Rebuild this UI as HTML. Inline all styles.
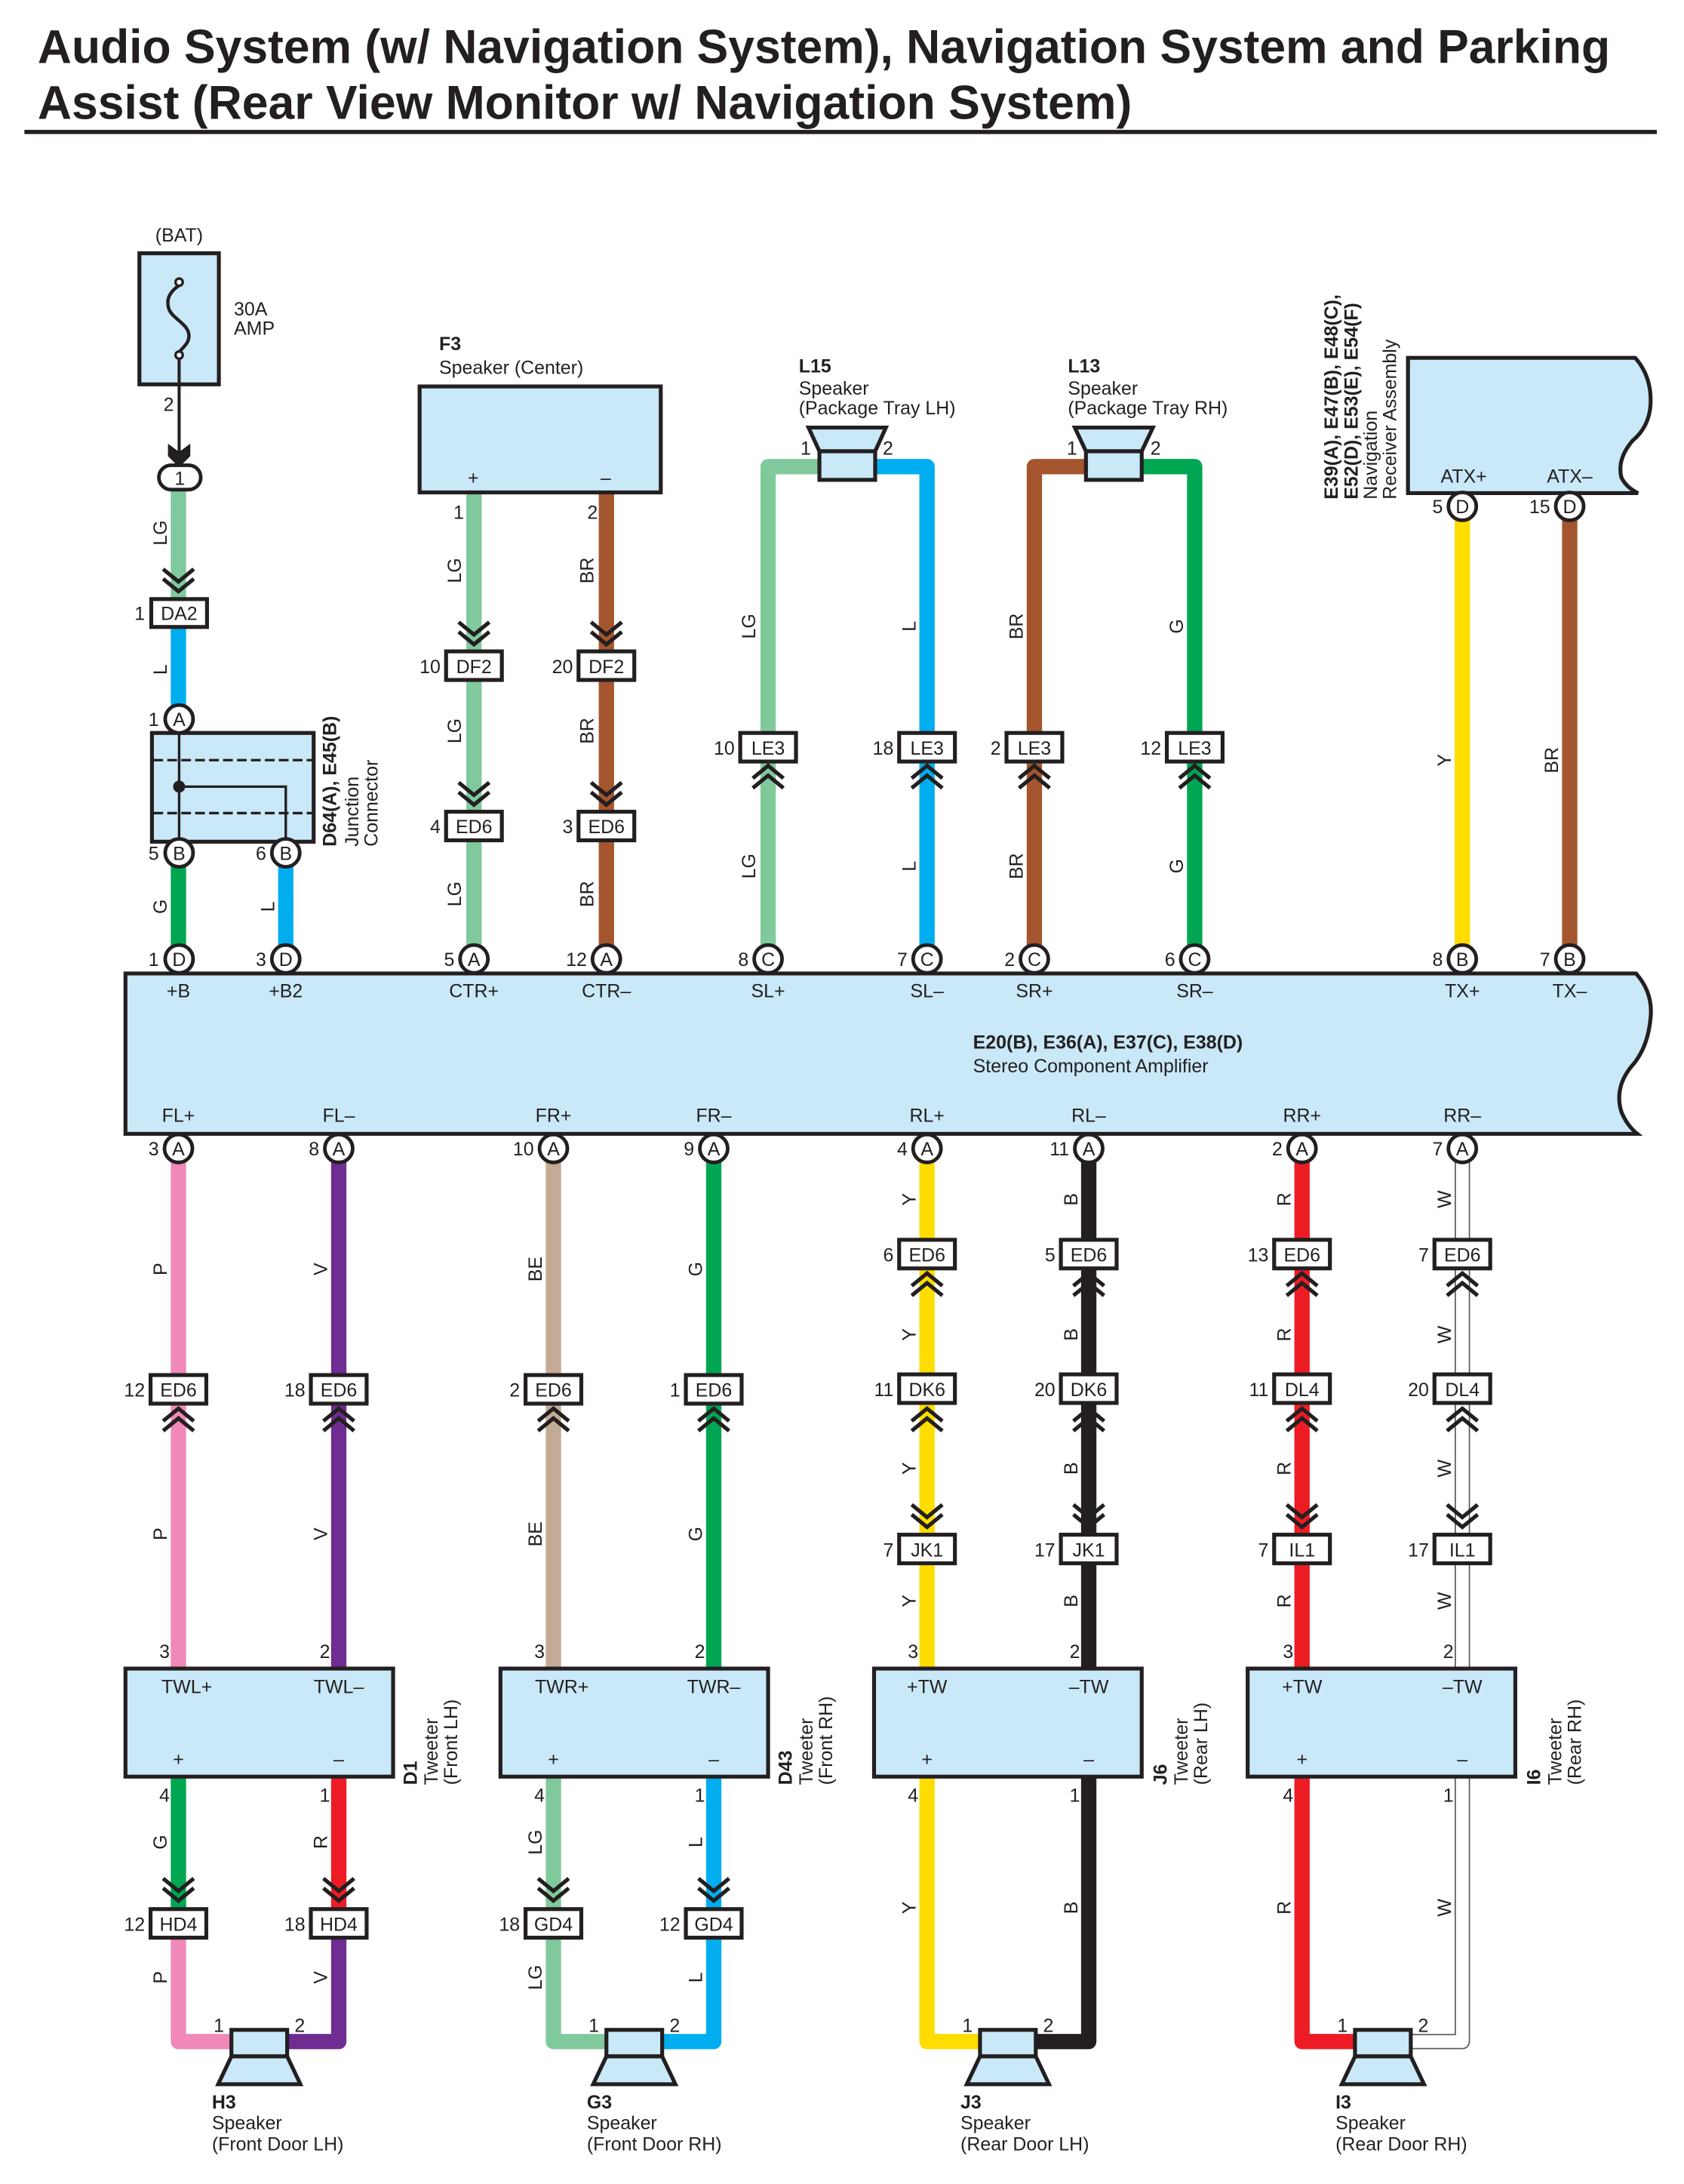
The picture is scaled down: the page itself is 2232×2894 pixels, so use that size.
<!DOCTYPE html>
<html><head><meta charset="utf-8"><style>
html,body{margin:0;padding:0;background:#fff;}
svg{display:block;}
text{font-family:"Liberation Sans",Arial,sans-serif;font-size:13.5px;fill:#231f20;}
.b{font-weight:bold;}
.c{text-anchor:middle;}
.e{text-anchor:end;}
.w{fill:none;stroke-width:11;stroke-linejoin:round;}
.box{fill:#c9e8f8;stroke:#231f20;stroke-width:2.8;}
.cn{fill:#fff;stroke:#231f20;stroke-width:2.8;}
.ch{fill:none;stroke:#231f20;stroke-width:2.8;}
.pin{fill:#fff;stroke:#231f20;stroke-width:2.6;}
</style></head><body>
<svg width="2232" height="2894" viewBox="0 0 1208 1566" xmlns="http://www.w3.org/2000/svg">
<rect width="1208" height="1566" fill="#fff"/>
<!-- Title -->
<text x="27" y="45" class="b" style="font-size:34px" textLength="1128" lengthAdjust="spacingAndGlyphs">Audio System (w/ Navigation System), Navigation System and Parking</text>
<text x="27" y="85" class="b" style="font-size:34px" textLength="785" lengthAdjust="spacingAndGlyphs">Assist (Rear View Monitor w/ Navigation System)</text>
<rect x="17.5" y="93" width="1171" height="3" fill="#231f20"/>

<!-- ================= WIRES ================= -->
<g class="w">
<path d="M128,352V430" stroke="#80c99c"/>
<path d="M128,449V506" stroke="#00aeef"/>
<path d="M128,612V688" stroke="#00a651"/>
<path d="M205,612V688" stroke="#00aeef"/>
<path d="M340,353V688" stroke="#80c99c"/>
<path d="M435,353V688" stroke="#a5562f"/>
<path d="M551,688V334.5H590" stroke="#80c99c"/>
<path d="M665,688V334.5H626" stroke="#00aeef"/>
<path d="M742,688V334.5H781" stroke="#a5562f"/>
<path d="M857,688V334.5H817" stroke="#00a651"/>
<path d="M1049,353V688" stroke="#ffdd00"/>
<path d="M1126,353V688" stroke="#a5562f"/>
<!-- front -->
<path d="M128,824V1197" stroke="#f088b8"/>
<path d="M128,1274V1379" stroke="#00a651"/>
<path d="M128,1379V1464H168" stroke="#f088b8"/>
<path d="M243,824V1197" stroke="#6f2c91"/>
<path d="M243,1274V1379" stroke="#ed1c24"/>
<path d="M243,1379V1464H204" stroke="#6f2c91"/>
<path d="M397,824V1197" stroke="#c4ab95"/>
<path d="M397,1274V1379" stroke="#80c99c"/>
<path d="M397,1379V1464H437" stroke="#80c99c"/>
<path d="M512,824V1197" stroke="#00a651"/>
<path d="M512,1274V1379" stroke="#00aeef"/>
<path d="M512,1379V1464H473" stroke="#00aeef"/>
<!-- rear -->
<path d="M665,824V1197" stroke="#ffdd00"/>
<path d="M665,1274V1464H705" stroke="#ffdd00"/>
<path d="M781,824V1197" stroke="#231f20"/>
<path d="M781,1274V1464H741" stroke="#231f20"/>
<path d="M934,824V1197" stroke="#ed1c24"/>
<path d="M934,1274V1464H974" stroke="#ed1c24"/>
<path d="M1049,824V1197" stroke="#555"/>
<path d="M1049,1274V1464H1010" stroke="#555"/>
</g>
<g class="w" style="stroke-width:9.2">
<path d="M1049,824V1197" stroke="#fff"/>
<path d="M1049,1274V1464H1010" stroke="#fff"/>
</g>

<!-- ================= FUSE ================= -->
<text x="128.5" y="173" class="c">(BAT)</text>
<rect x="100" y="181.5" width="57" height="94" class="box"/>
<path d="M128.5,204.5 C122,209 119,214 121,221 C123,228 135,232 135.5,240 C136,246 131,249 128.5,252.5" fill="none" stroke="#231f20" stroke-width="2.4"/>
<circle cx="128.5" cy="202.2" r="2.6" fill="#fff" stroke="#231f20" stroke-width="1.8"/>
<circle cx="128.5" cy="254.5" r="2.6" fill="#fff" stroke="#231f20" stroke-width="1.8"/>
<line x1="128.5" y1="257" x2="128.5" y2="330" stroke="#231f20" stroke-width="2.2"/>
<path d="M120.5,318 L128.5,324 L136.5,318 L136.5,327 L128.5,335 L120.5,327 Z" fill="#231f20"/>
<text x="167.8" y="226">30A</text>
<text x="167.8" y="240">AMP</text>
<text x="121" y="294.5" class="c">2</text>
<rect x="114" y="333.5" width="30" height="17.5" rx="8.7" class="pin"/>
<text x="129" y="347.5" class="c">1</text>

<!-- Junction connector -->
<rect x="109" y="525.5" width="116" height="78" class="box"/>
<line x1="110" y1="545" x2="224" y2="545" stroke="#231f20" stroke-width="1.8" stroke-dasharray="7,3"/>
<line x1="110" y1="583" x2="224" y2="583" stroke="#231f20" stroke-width="1.8" stroke-dasharray="7,3"/>
<path d="M128.5,526V604 M128.5,564H205V604" fill="none" stroke="#231f20" stroke-width="1.8"/>
<circle cx="128.5" cy="564" r="4.3" fill="#231f20"/>
<text transform="translate(241,607) rotate(-90)" class="b">D64(A), E45(B)</text>
<text transform="translate(257,607) rotate(-90)">Junction</text>
<text transform="translate(271,607) rotate(-90)">Connector</text>

<!-- F3 -->
<text x="315" y="251" class="b">F3</text>
<text x="315" y="268">Speaker (Center)</text>
<rect x="301" y="277" width="173" height="76" class="box"/>
<text x="339.5" y="347" class="c">+</text>
<text x="434.5" y="347" class="c">–</text>
<text x="329" y="372" class="c">1</text>
<text x="425" y="372" class="c">2</text>

<!-- L15 / L13 -->
<text x="573" y="267" class="b">L15</text>
<text x="573" y="283">Speaker</text>
<text x="573" y="297">(Package Tray LH)</text>
<polygon points="580,306.5 635.5,306.5 627.8,323.5 587.8,323.5" class="box"/>
<rect x="587.8" y="323.5" width="40" height="20.5" class="box"/>
<text x="578" y="326" class="c">1</text>
<text x="637" y="326" class="c">2</text>
<text x="766" y="267" class="b">L13</text>
<text x="766" y="283">Speaker</text>
<text x="766" y="297">(Package Tray RH)</text>
<polygon points="771,306.5 827,306.5 819,323.5 779,323.5" class="box"/>
<rect x="779" y="323.5" width="40" height="20.5" class="box"/>
<text x="769" y="326" class="c">1</text>
<text x="829" y="326" class="c">2</text>

<!-- Nav receiver -->
<path d="M1010,256.5H1173Q1185,270 1184,290Q1183,306 1171,316Q1160,329 1163,342Q1166,349 1175,353.5H1010Z" class="box"/>
<text x="1050" y="346" class="c">ATX+</text>
<text x="1126" y="346" class="c">ATX–</text>
<text transform="translate(959.5,358) rotate(-90)" class="b">E39(A), E47(B), E48(C),</text>
<text transform="translate(973.8,358) rotate(-90)" class="b">E52(D), E53(E), E54(F)</text>
<text transform="translate(987.8,358) rotate(-90)">Navigation</text>
<text transform="translate(1001.5,358) rotate(-90)">Receiver Assembly</text>

<!-- AMP -->
<path d="M90,698H1173.6Q1186,712 1184,730Q1182,752 1170,765Q1158,780 1163,797Q1167,807 1174.5,813H90Z" class="box"/>
<g class="c">
<text x="128" y="715">+B</text><text x="205" y="715">+B2</text>
<text x="340" y="715">CTR+</text><text x="435" y="715">CTR–</text>
<text x="551" y="715">SL+</text><text x="665" y="715">SL–</text>
<text x="742" y="715">SR+</text><text x="857" y="715">SR–</text>
<text x="1049" y="715">TX+</text><text x="1126" y="715">TX–</text>
<text x="128" y="804.5">FL+</text><text x="243" y="804.5">FL–</text>
<text x="397" y="804.5">FR+</text><text x="512" y="804.5">FR–</text>
<text x="665" y="804.5">RL+</text><text x="781" y="804.5">RL–</text>
<text x="934" y="804.5">RR+</text><text x="1049" y="804.5">RR–</text>
</g>
<text x="698" y="752" class="b">E20(B), E36(A), E37(C), E38(D)</text>
<text x="698" y="769">Stereo Component Amplifier</text>

<!-- Tweeters -->
<rect x="90" y="1196.5" width="192" height="77.5" class="box"/>
<rect x="359" y="1196.5" width="192" height="77.5" class="box"/>
<rect x="627" y="1196.5" width="192" height="77.5" class="box"/>
<rect x="895" y="1196.5" width="192" height="77.5" class="box"/>
<g class="c">
<text x="134" y="1214">TWL+</text><text x="243" y="1214">TWL–</text>
<text x="403" y="1214">TWR+</text><text x="512" y="1214">TWR–</text>
<text x="665" y="1214">+TW</text><text x="781" y="1214">–TW</text>
<text x="934" y="1214">+TW</text><text x="1049" y="1214">–TW</text>
<text x="128" y="1266">+</text><text x="243" y="1266">–</text>
<text x="397" y="1266">+</text><text x="512" y="1266">–</text>
<text x="665" y="1266">+</text><text x="781" y="1266">–</text>
<text x="934" y="1266">+</text><text x="1049" y="1266">–</text>
<text x="118" y="1189">3</text><text x="233" y="1189">2</text>
<text x="387" y="1189">3</text><text x="502" y="1189">2</text>
<text x="655" y="1189">3</text><text x="771" y="1189">2</text>
<text x="924" y="1189">3</text><text x="1039" y="1189">2</text>
<text x="118" y="1292">4</text><text x="233" y="1292">1</text>
<text x="387" y="1292">4</text><text x="502" y="1292">1</text>
<text x="655" y="1292">4</text><text x="771" y="1292">1</text>
<text x="924" y="1292">4</text><text x="1039" y="1292">1</text>
</g>
<text transform="translate(299,1280) rotate(-90)" class="b">D1</text>
<text transform="translate(314,1280) rotate(-90)">Tweeter</text>
<text transform="translate(328,1280) rotate(-90)">(Front LH)</text>
<text transform="translate(568,1280) rotate(-90)" class="b">D43</text>
<text transform="translate(583,1280) rotate(-90)">Tweeter</text>
<text transform="translate(597,1280) rotate(-90)">(Front RH)</text>
<text transform="translate(837,1280) rotate(-90)" class="b">J6</text>
<text transform="translate(852,1280) rotate(-90)">Tweeter</text>
<text transform="translate(866,1280) rotate(-90)">(Rear LH)</text>
<text transform="translate(1105,1280) rotate(-90)" class="b">I6</text>
<text transform="translate(1120,1280) rotate(-90)">Tweeter</text>
<text transform="translate(1134,1280) rotate(-90)">(Rear RH)</text>

<!-- Bottom speakers -->
<g>
<rect x="166" y="1455.6" width="40" height="19" class="box"/><polygon points="166,1474.6 206,1474.6 215.5,1494.6 156.5,1494.6" class="box"/>
<rect x="435" y="1455.6" width="40" height="19" class="box"/><polygon points="435,1474.6 475,1474.6 484.5,1494.6 425.5,1494.6" class="box"/>
<rect x="703" y="1455.6" width="40" height="19" class="box"/><polygon points="703,1474.6 743,1474.6 752.5,1494.6 693.5,1494.6" class="box"/>
<rect x="972" y="1455.6" width="40" height="19" class="box"/><polygon points="972,1474.6 1012,1474.6 1021.5,1494.6 962.5,1494.6" class="box"/>
</g>
<g class="c">
<text x="157" y="1457">1</text><text x="215" y="1457">2</text>
<text x="426" y="1457">1</text><text x="484" y="1457">2</text>
<text x="694" y="1457">1</text><text x="752" y="1457">2</text>
<text x="963" y="1457">1</text><text x="1021" y="1457">2</text>
</g>
<text x="152" y="1512" class="b">H3</text><text x="152" y="1527">Speaker</text><text x="152" y="1542">(Front Door LH)</text>
<text x="421" y="1512" class="b">G3</text><text x="421" y="1527">Speaker</text><text x="421" y="1542">(Front Door RH)</text>
<text x="689" y="1512" class="b">J3</text><text x="689" y="1527">Speaker</text><text x="689" y="1542">(Rear Door LH)</text>
<text x="958" y="1512" class="b">I3</text><text x="958" y="1527">Speaker</text><text x="958" y="1542">(Rear Door RH)</text>

<!-- ================= CHEVRONS ================= -->
<g class="ch">
<!-- down chevrons: tips at top-3 and top-10 -->
<path d="M117,408L128,417L139,408M117,415L128,424L139,415"/>
<path d="M329,446L340,455L351,446M329,453L340,462L351,453"/>
<path d="M424,446L435,455L446,446M424,453L435,462L446,453"/>
<path d="M329,561L340,570L351,561M329,568L340,577L351,568"/>
<path d="M424,561L435,570L446,561M424,568L435,577L446,568"/>
<path d="M654,1079L665,1088L676,1079M654,1086L665,1095L676,1086"/>
<path d="M770,1079L781,1088L792,1079M770,1086L781,1095L792,1086"/>
<path d="M923,1079L934,1088L945,1079M923,1086L934,1095L945,1086"/>
<path d="M1038,1079L1049,1088L1060,1079M1038,1086L1049,1095L1060,1086"/>
<path d="M117,1347L128,1356L139,1347M117,1354L128,1363L139,1354"/>
<path d="M232,1347L243,1356L254,1347M232,1354L243,1363L254,1354"/>
<path d="M386,1347L397,1356L408,1347M386,1354L397,1363L408,1354"/>
<path d="M501,1347L512,1356L523,1347M501,1354L512,1363L523,1354"/>
<!-- up chevrons: under connectors -->
<path d="M540,558L551,549L562,558M540,565L551,556L562,565"/>
<path d="M654,558L665,549L676,558M654,565L665,556L676,565"/>
<path d="M731,558L742,549L753,558M731,565L742,556L753,565"/>
<path d="M846,558L857,549L868,558M846,565L857,556L868,565"/>
<path d="M117,1019L128,1010L139,1019M117,1026L128,1017L139,1026"/>
<path d="M232,1019L243,1010L254,1019M232,1026L243,1017L254,1026"/>
<path d="M386,1019L397,1010L408,1019M386,1026L397,1017L408,1026"/>
<path d="M501,1019L512,1010L523,1019M501,1026L512,1017L523,1026"/>
<path d="M654,922L665,913L676,922M654,929L665,920L676,929"/>
<path d="M770,922L781,913L792,922M770,929L781,920L792,929"/>
<path d="M923,922L934,913L945,922M923,929L934,920L945,929"/>
<path d="M1038,922L1049,913L1060,922M1038,929L1049,920L1060,929"/>
<path d="M654,1019L665,1010L676,1019M654,1026L665,1017L676,1026"/>
<path d="M770,1019L781,1010L792,1019M770,1026L781,1017L792,1026"/>
<path d="M923,1019L934,1010L945,1019M923,1026L934,1017L945,1026"/>
<path d="M1038,1019L1049,1010L1060,1019M1038,1026L1049,1017L1060,1026"/>
</g>

<!-- ================= CONNECTORS ================= -->
<g>
<rect x="108.5" y="429.5" width="40" height="20" class="cn"/>
<rect x="320" y="467" width="40" height="20.5" class="cn"/><rect x="415" y="467" width="40" height="20.5" class="cn"/>
<rect x="320" y="582" width="40" height="20.5" class="cn"/><rect x="415" y="582" width="40" height="20.5" class="cn"/>
<rect x="531" y="525.5" width="40" height="20.5" class="cn"/><rect x="645" y="525.5" width="40" height="20.5" class="cn"/>
<rect x="722" y="525.5" width="40" height="20.5" class="cn"/><rect x="837" y="525.5" width="40" height="20.5" class="cn"/>
<rect x="108" y="986" width="40" height="20.5" class="cn"/><rect x="223" y="986" width="40" height="20.5" class="cn"/>
<rect x="377" y="986" width="40" height="20.5" class="cn"/><rect x="492" y="986" width="40" height="20.5" class="cn"/>
<rect x="645" y="889" width="40" height="20.5" class="cn"/><rect x="761" y="889" width="40" height="20.5" class="cn"/>
<rect x="914" y="889" width="40" height="20.5" class="cn"/><rect x="1029" y="889" width="40" height="20.5" class="cn"/>
<rect x="645" y="985.5" width="40" height="20.5" class="cn"/><rect x="761" y="985.5" width="40" height="20.5" class="cn"/>
<rect x="914" y="985.5" width="40" height="20.5" class="cn"/><rect x="1029" y="985.5" width="40" height="20.5" class="cn"/>
<rect x="645" y="1100.5" width="40" height="20.5" class="cn"/><rect x="761" y="1100.5" width="40" height="20.5" class="cn"/>
<rect x="914" y="1100.5" width="40" height="20.5" class="cn"/><rect x="1029" y="1100.5" width="40" height="20.5" class="cn"/>
<rect x="108" y="1369" width="40" height="20.5" class="cn"/><rect x="223" y="1369" width="40" height="20.5" class="cn"/>
<rect x="377" y="1369" width="40" height="20.5" class="cn"/><rect x="492" y="1369" width="40" height="20.5" class="cn"/>
</g>
<g class="c">
<text x="128.5" y="444.5">DA2</text>
<text x="340" y="482.5">DF2</text><text x="435" y="482.5">DF2</text>
<text x="340" y="597.5">ED6</text><text x="435" y="597.5">ED6</text>
<text x="551" y="541">LE3</text><text x="665" y="541">LE3</text><text x="742" y="541">LE3</text><text x="857" y="541">LE3</text>
<text x="128" y="1001.5">ED6</text><text x="243" y="1001.5">ED6</text><text x="397" y="1001.5">ED6</text><text x="512" y="1001.5">ED6</text>
<text x="665" y="904.5">ED6</text><text x="781" y="904.5">ED6</text><text x="934" y="904.5">ED6</text><text x="1049" y="904.5">ED6</text>
<text x="665" y="1001">DK6</text><text x="781" y="1001">DK6</text><text x="934" y="1001">DL4</text><text x="1049" y="1001">DL4</text>
<text x="665" y="1116">JK1</text><text x="781" y="1116">JK1</text><text x="934" y="1116">IL1</text><text x="1049" y="1116">IL1</text>
<text x="128" y="1384.5">HD4</text><text x="243" y="1384.5">HD4</text><text x="397" y="1384.5">GD4</text><text x="512" y="1384.5">GD4</text>
</g>
<g class="e">
<text x="104" y="444.5">1</text>
<text x="316" y="482.5">10</text><text x="411" y="482.5">20</text>
<text x="316" y="597.5">4</text><text x="411" y="597.5">3</text>
<text x="527" y="541">10</text><text x="641" y="541">18</text><text x="718" y="541">2</text><text x="833" y="541">12</text>
<text x="104" y="1001.5">12</text><text x="219" y="1001.5">18</text><text x="373" y="1001.5">2</text><text x="488" y="1001.5">1</text>
<text x="641" y="904.5">6</text><text x="757" y="904.5">5</text><text x="910" y="904.5">13</text><text x="1025" y="904.5">7</text>
<text x="641" y="1001">11</text><text x="757" y="1001">20</text><text x="910" y="1001">11</text><text x="1025" y="1001">20</text>
<text x="641" y="1116">7</text><text x="757" y="1116">17</text><text x="910" y="1116">7</text><text x="1025" y="1116">17</text>
<text x="104" y="1384.5">12</text><text x="219" y="1384.5">18</text><text x="373" y="1384.5">18</text><text x="488" y="1384.5">12</text>
</g>

<!-- ================= PINS ================= -->
<g>
<circle cx="128.5" cy="515.5" r="10" class="pin"/>
<circle cx="128.5" cy="611.5" r="10" class="pin"/><circle cx="205" cy="611.5" r="10" class="pin"/>
<circle cx="1049" cy="363" r="10" class="pin"/><circle cx="1126" cy="363" r="10" class="pin"/>
<circle cx="128.5" cy="687.6" r="10" class="pin"/><circle cx="205" cy="687.6" r="10" class="pin"/>
<circle cx="340" cy="687.6" r="10" class="pin"/><circle cx="435" cy="687.6" r="10" class="pin"/>
<circle cx="551" cy="687.6" r="10" class="pin"/><circle cx="665" cy="687.6" r="10" class="pin"/>
<circle cx="742" cy="687.6" r="10" class="pin"/><circle cx="857" cy="687.6" r="10" class="pin"/>
<circle cx="1049" cy="687.6" r="10" class="pin"/><circle cx="1126" cy="687.6" r="10" class="pin"/>
<circle cx="128" cy="823.5" r="10" class="pin"/><circle cx="243" cy="823.5" r="10" class="pin"/>
<circle cx="397" cy="823.5" r="10" class="pin"/><circle cx="512" cy="823.5" r="10" class="pin"/>
<circle cx="665" cy="823.5" r="10" class="pin"/><circle cx="781" cy="823.5" r="10" class="pin"/>
<circle cx="934" cy="823.5" r="10" class="pin"/><circle cx="1049" cy="823.5" r="10" class="pin"/>
</g>
<g class="c">
<text x="128.5" y="520.5">A</text>
<text x="128.5" y="616.5">B</text><text x="205" y="616.5">B</text>
<text x="1049" y="368">D</text><text x="1126" y="368">D</text>
<text x="128.5" y="692.6">D</text><text x="205" y="692.6">D</text>
<text x="340" y="692.6">A</text><text x="435" y="692.6">A</text>
<text x="551" y="692.6">C</text><text x="665" y="692.6">C</text>
<text x="742" y="692.6">C</text><text x="857" y="692.6">C</text>
<text x="1049" y="692.6">B</text><text x="1126" y="692.6">B</text>
<text x="128" y="828.5">A</text><text x="243" y="828.5">A</text>
<text x="397" y="828.5">A</text><text x="512" y="828.5">A</text>
<text x="665" y="828.5">A</text><text x="781" y="828.5">A</text>
<text x="934" y="828.5">A</text><text x="1049" y="828.5">A</text>
</g>
<g class="e">
<text x="114" y="520.5">1</text>
<text x="114" y="616.5">5</text><text x="191" y="616.5">6</text>
<text x="1035" y="368">5</text><text x="1112" y="368">15</text>
<text x="114" y="692.6">1</text><text x="191" y="692.6">3</text>
<text x="326" y="692.6">5</text><text x="421" y="692.6">12</text>
<text x="537" y="692.6">8</text><text x="651" y="692.6">7</text>
<text x="728" y="692.6">2</text><text x="843" y="692.6">6</text>
<text x="1035" y="692.6">8</text><text x="1112" y="692.6">7</text>
<text x="114" y="828.5">3</text><text x="229" y="828.5">8</text>
<text x="383" y="828.5">10</text><text x="498" y="828.5">9</text>
<text x="651" y="828.5">4</text><text x="767" y="828.5">11</text>
<text x="920" y="828.5">2</text><text x="1035" y="828.5">7</text>
</g>

<!-- ================= WIRE LABELS ================= -->
<g class="c">
<text transform="translate(115,382) rotate(-90)" dy="0.35em">LG</text>
<text transform="translate(115,480) rotate(-90)" dy="0.35em">L</text>
<text transform="translate(115,650) rotate(-90)" dy="0.35em">G</text>
<text transform="translate(192,650) rotate(-90)" dy="0.35em">L</text>
<text transform="translate(326,409) rotate(-90)" dy="0.35em">LG</text>
<text transform="translate(326,524) rotate(-90)" dy="0.35em">LG</text>
<text transform="translate(326,641) rotate(-90)" dy="0.35em">LG</text>
<text transform="translate(421,409) rotate(-90)" dy="0.35em">BR</text>
<text transform="translate(421,524) rotate(-90)" dy="0.35em">BR</text>
<text transform="translate(421,641) rotate(-90)" dy="0.35em">BR</text>
<text transform="translate(537,449) rotate(-90)" dy="0.35em">LG</text>
<text transform="translate(537,621) rotate(-90)" dy="0.35em">LG</text>
<text transform="translate(652,449) rotate(-90)" dy="0.35em">L</text>
<text transform="translate(652,621) rotate(-90)" dy="0.35em">L</text>
<text transform="translate(729,449) rotate(-90)" dy="0.35em">BR</text>
<text transform="translate(729,621) rotate(-90)" dy="0.35em">BR</text>
<text transform="translate(844,449) rotate(-90)" dy="0.35em">G</text>
<text transform="translate(844,621) rotate(-90)" dy="0.35em">G</text>
<text transform="translate(1036,545) rotate(-90)" dy="0.35em">Y</text>
<text transform="translate(1113,545) rotate(-90)" dy="0.35em">BR</text>

<text transform="translate(115,910) rotate(-90)" dy="0.35em">P</text>
<text transform="translate(115,1100) rotate(-90)" dy="0.35em">P</text>
<text transform="translate(115,1321) rotate(-90)" dy="0.35em">G</text>
<text transform="translate(115,1418) rotate(-90)" dy="0.35em">P</text>
<text transform="translate(230,910) rotate(-90)" dy="0.35em">V</text>
<text transform="translate(230,1100) rotate(-90)" dy="0.35em">V</text>
<text transform="translate(230,1321) rotate(-90)" dy="0.35em">R</text>
<text transform="translate(230,1418) rotate(-90)" dy="0.35em">V</text>
<text transform="translate(384,910) rotate(-90)" dy="0.35em">BE</text>
<text transform="translate(384,1100) rotate(-90)" dy="0.35em">BE</text>
<text transform="translate(384,1321) rotate(-90)" dy="0.35em">LG</text>
<text transform="translate(384,1418) rotate(-90)" dy="0.35em">LG</text>
<text transform="translate(499,910) rotate(-90)" dy="0.35em">G</text>
<text transform="translate(499,1100) rotate(-90)" dy="0.35em">G</text>
<text transform="translate(499,1321) rotate(-90)" dy="0.35em">L</text>
<text transform="translate(499,1418) rotate(-90)" dy="0.35em">L</text>

<text transform="translate(652,860) rotate(-90)" dy="0.35em">Y</text>
<text transform="translate(652,957) rotate(-90)" dy="0.35em">Y</text>
<text transform="translate(652,1053) rotate(-90)" dy="0.35em">Y</text>
<text transform="translate(652,1148) rotate(-90)" dy="0.35em">Y</text>
<text transform="translate(652,1368) rotate(-90)" dy="0.35em">Y</text>
<text transform="translate(768,860) rotate(-90)" dy="0.35em">B</text>
<text transform="translate(768,957) rotate(-90)" dy="0.35em">B</text>
<text transform="translate(768,1053) rotate(-90)" dy="0.35em">B</text>
<text transform="translate(768,1148) rotate(-90)" dy="0.35em">B</text>
<text transform="translate(768,1368) rotate(-90)" dy="0.35em">B</text>
<text transform="translate(921,860) rotate(-90)" dy="0.35em">R</text>
<text transform="translate(921,957) rotate(-90)" dy="0.35em">R</text>
<text transform="translate(921,1053) rotate(-90)" dy="0.35em">R</text>
<text transform="translate(921,1148) rotate(-90)" dy="0.35em">R</text>
<text transform="translate(921,1368) rotate(-90)" dy="0.35em">R</text>
<text transform="translate(1036,860) rotate(-90)" dy="0.35em">W</text>
<text transform="translate(1036,957) rotate(-90)" dy="0.35em">W</text>
<text transform="translate(1036,1053) rotate(-90)" dy="0.35em">W</text>
<text transform="translate(1036,1148) rotate(-90)" dy="0.35em">W</text>
<text transform="translate(1036,1368) rotate(-90)" dy="0.35em">W</text>
</g>
</svg>
</body></html>
